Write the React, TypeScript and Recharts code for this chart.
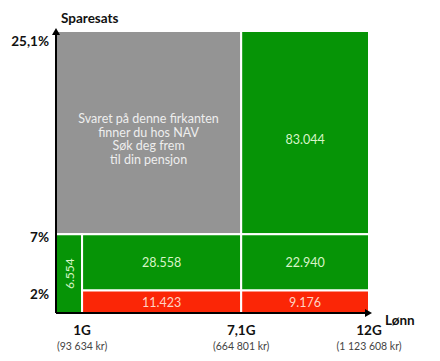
import { ComposedChart, XAxis, YAxis, Line, ReferenceArea, ReferenceLine, ReferenceDot } from 'recharts';

const xTicks = [1, 7.1, 12];
const xTickLabels = ['1G', '7,1G', '12G'];
const xTickSubLabels = ['(93 634 kr)', '(664 801 kr)', '(1 123 608 kr)'];
const yTicks = [2, 7, 25.1];
const yTickLabels = ['2%', '7%', '25,1%'];

// salary in G (x), saving rate in % (y)
const cellSalaryFrom = [0, 7.1, 0, 1, 1, 7.1, 7.1];
const cellSalaryTo = [7.1, 12, 1, 7.1, 7.1, 12, 12];
const cellRateFrom = [7, 7, 0, 2, 0, 2, 0];
const cellRateTo = [25.1, 25.1, 7, 7, 2, 7, 2];
const cellKinds = ['nav', 'green', 'green', 'green', 'red', 'green', 'red'];
const cellTexts = [
  'Svaret på denne firkanten|finner du hos NAV|Søk deg frem|til din pensjon',
  '83.044',
  '6.554',
  '28.558',
  '11.423',
  '22.940',
  '9.176',
];

const FONT = 'Lato, "Noto Sans", sans-serif';
const fills: Record<string, string> = { nav: '#949494', green: '#069406', red: '#fb2606' };
const textColors: Record<string, string> = { nav: '#eeeeee', green: '#d8f5c8', red: '#ffd4c4' };

// invisible series so both axes get a domain
const chartData = xTicks.map((g, i) => ({ g, rate: yTicks[i] }));

function CellLabel({ viewBox, text, kind }: any) {
  if (!viewBox) return null;
  const { x, y, width, height } = viewBox;
  const cx = x + width / 2;
  const cy = y + height / 2;
  const lines = text.split('|');
  const color = textColors[kind];
  if (width < 40) {
    return (
      <text x={cx} y={cy} fill={color} fontSize={12} fontFamily={FONT} textAnchor="middle"
        dominantBaseline="central" transform={`rotate(-90 ${cx} ${cy})`}>
        {text}
      </text>
    );
  }
  const lh = 13.5;
  const shift = height > 150 ? 6 : 0;
  const top = cy + shift - ((lines.length - 1) * lh) / 2;
  return (
    <text fill={color} fontSize={12.5} fontFamily={FONT} textAnchor="middle" dominantBaseline="central">
      {lines.map((l: string, i: number) => (
        <tspan key={i} x={cx} y={top + i * lh}>{l}</tspan>
      ))}
    </text>
  );
}

function XTick({ x, y, payload }: any) {
  const i = xTicks.indexOf(payload.value);
  return (
    <g>
      <text x={x} y={y + 20} textAnchor="middle" fontSize={13.5} fontWeight={700} fill="#111" fontFamily={FONT}>
        {xTickLabels[i]}
      </text>
      <text x={x} y={y + 35} textAnchor="middle" fontSize={10.5} fill="#444" fontFamily={FONT}>
        {xTickSubLabels[i]}
      </text>
    </g>
  );
}

function YTick({ x, y, payload }: any) {
  const i = yTicks.indexOf(payload.value);
  const dy = payload.value > 20 ? 10 : 3;
  return (
    <text x={x} y={y + dy} textAnchor="end" dominantBaseline="central" fontSize={13.5} fontWeight={700}
      fill="#111" fontFamily={FONT}>
      {yTickLabels[i]}
    </text>
  );
}

const ArrowUp = ({ cx, cy }: any) => (
  <path d={`M${cx - 4},${cy + 4} L${cx},${cy - 3} L${cx + 4},${cy + 4} Z`} fill="#000" />
);
const ArrowRight = ({ cx, cy }: any) => (
  <path d={`M${cx - 4},${cy - 4} L${cx + 3},${cy} L${cx - 4},${cy + 4} Z`} fill="#000" />
);

export default function App() {
  return (
    <div style={{ position: 'absolute', left: 0, top: 0, background: '#fff' }}>
      <ComposedChart width={440} height={361} data={chartData}
        margin={{ top: 31, right: 71, bottom: 4, left: 0 }}>
        <XAxis dataKey="g" type="number" domain={[0, 12]} ticks={xTicks} tick={<XTick />}
          axisLine={false} tickLine={false} tickSize={0} height={44} interval={0}
          label={(p: any) => (
            <text x={p.viewBox.x + p.viewBox.width + 16} y={p.viewBox.y + 12} fontSize={13.5}
              fontWeight={700} fill="#111" fontFamily={FONT}>Lønn</text>
          )} />
        <YAxis type="number" domain={[0, 25.1]} ticks={yTicks} tick={<YTick />} axisLine={false}
          tickLine={false} tickSize={0} tickMargin={7} width={56} interval={0} allowDataOverflow
          label={(p: any) => (
            <text x={p.viewBox.x + p.viewBox.width + 5} y={p.viewBox.y - 8} fontSize={13.5}
              fontWeight={700} fill="#111" fontFamily={FONT}>Sparesats</text>
          )} />
        <Line dataKey="rate" stroke="none" dot={false} activeDot={false} isAnimationActive={false} />
        {cellTexts.map((t, i) => (
          <ReferenceArea key={i} x1={cellSalaryFrom[i]} x2={cellSalaryTo[i]} y1={cellRateFrom[i]}
            y2={cellRateTo[i]} fill={fills[cellKinds[i]]} fillOpacity={1} stroke="#fff" strokeWidth={2}
            label={<CellLabel text={t} kind={cellKinds[i]} />} />
        ))}
        <ReferenceLine segment={[{ x: 0, y: 0 }, { x: 0, y: 25.1 }]} stroke="#000" strokeWidth={2} />
        <ReferenceLine segment={[{ x: 0, y: 0 }, { x: 12, y: 0 }]} stroke="#000" strokeWidth={2} />
        <ReferenceDot x={0} y={25.1} r={0} shape={<ArrowUp />} />
        <ReferenceDot x={12} y={0} r={0} shape={<ArrowRight />} />
      </ComposedChart>
    </div>
  );
}
